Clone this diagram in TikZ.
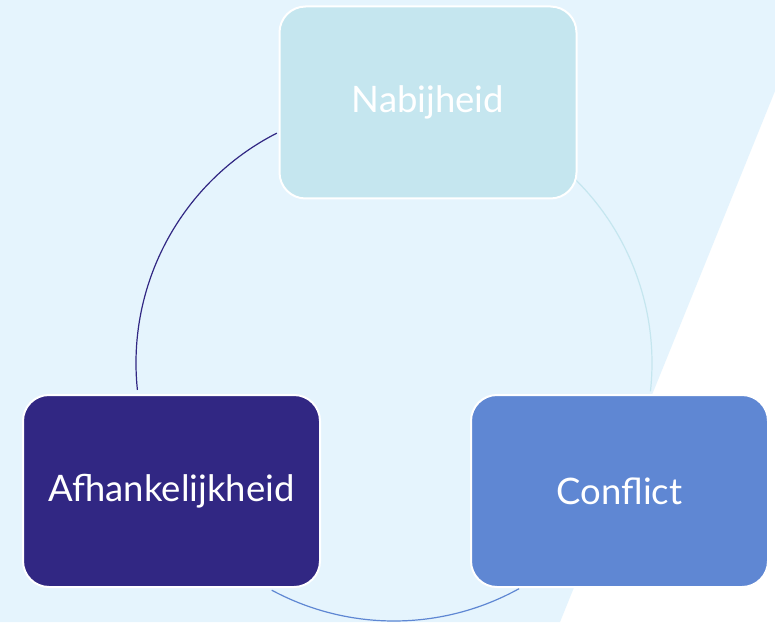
\documentclass[tikz,border=0pt]{standalone}
\usepackage{fontspec}
\setmainfont{Lato}
\usetikzlibrary{positioning}

\definecolor{bgblue}{HTML}{E5F4FD}
\definecolor{nabcol}{HTML}{C5E6EF}
\definecolor{afhcol}{HTML}{312783}
\definecolor{concol}{HTML}{5F87D3}

\tikzset{
  box/.style={rectangle,rounded corners=26pt,draw=white,line width=2pt,
    minimum width=297pt,minimum height=192pt,inner sep=0pt,
    text=white,font=\fontsize{36.5}{42}\selectfont},
  ring/.style={line width=1.2pt}
}

\begin{document}
\begin{tikzpicture}[x=1pt,y=1pt]
    \useasboundingbox (0,0) rectangle (775,622);
    \fill[white] (0,0) rectangle (775,622);
    \fill[bgblue] (0,0) -- (0,622) -- (775,622) -- (775,531) -- (560,0) -- cycle;
    \coordinate (ctr) at (394,259);
    \draw[ring,afhcol] ([shift={(117:258)}]ctr) arc (117:186:258);
    \draw[ring,nabcol] ([shift={(45.6:258)}]ctr) arc (45.6:-6.3:258);
    \draw[ring,concol] ([shift={(241.7:258)}]ctr) arc (241.7:299:258);
    \node[box,fill=nabcol] (nab) at (428,519.5) {Nabijheid};
    \node[box,fill=afhcol] (afh) at (171.5,131) {Afhankelijkheid};
    \node[box,fill=concol] (con) at (619.5,131) {Conflict};
\end{tikzpicture}
\end{document}
